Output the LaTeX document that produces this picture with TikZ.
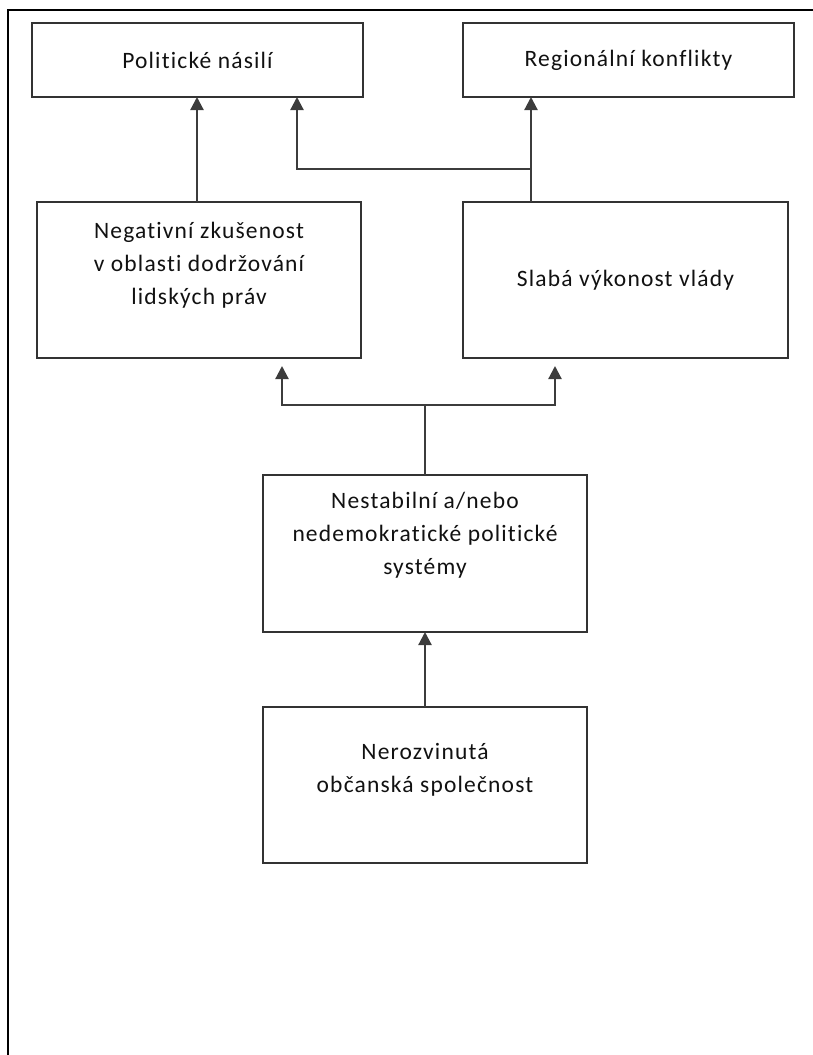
\documentclass[tikz,border=0pt]{standalone}
\usepackage{fontspec}
\setmainfont{Carlito}[LetterSpace=5, Ligatures=NoCommon]
\usetikzlibrary{arrows.meta}

\definecolor{edgegray}{HTML}{333333}
\definecolor{linkgray}{HTML}{3C3C3C}
\definecolor{inkgray}{HTML}{111111}

\begin{document}
\begin{tikzpicture}[x=1pt,y=-1pt,
  box/.style={draw=edgegray, line width=1.8pt, fill=white, inner sep=0pt, outer sep=0pt,
              minimum width=#1},
  box/.default=324pt,
  caption/.style={text=inkgray, align=center, inner sep=0pt,
                  font=\fontsize{23.5}{33}\selectfont},
  conn/.style={draw=linkgray, line width=2.2pt, -{Triangle[length=13pt,width=13pt]}},
  link/.style={draw=linkgray, line width=2.2pt}
]
\useasboundingbox (0,0) rectangle (813,1055);

% page frame (open to the right and bottom)
\draw[line width=2.5pt, black] (813,10) -- (8,10) -- (8,1055);

% top row
\node[box=331pt, minimum height=74pt] (pn) at (197.5,60) {};
\node[box=331pt, minimum height=74pt] (rk) at (628.5,60) {};
\node[caption] (pnT) at (pn.center) {Politické násilí};
\node[caption] (rkT) at (rk.center) {Regionální konflikty};

% middle row
\node[box=324pt, minimum height=156pt] (neg) at (199,280) {};
\node[box=325pt, minimum height=156pt] (slab) at (625.5,280) {};
\node[caption] (negT) at (199,265) {Negativní zkušenost\\v oblasti dodržování\\lidských práv};
\node[caption] (slabT) at (slab.center) {Slabá výkonost vlády};

% lower boxes
\node[box=324pt, minimum height=157pt] (nest) at (425,553.5) {};
\node[caption] (nestT) at (425,535) {Nestabilní a/nebo\\nedemokratické politické\\systémy};
\node[box=324pt, minimum height=156pt] (ner) at (425,785) {};
\node[caption] (nerT) at (425,770) {Nerozvinutá\\občanská společnost};

% junction points
\coordinate (jr) at (531,169);
\coordinate (jl) at (297,169);
\coordinate (jm) at (425,405);
\coordinate (ml) at (282,405);
\coordinate (mr) at (555,405);

% connectors to the top row
\draw[conn] ([xshift=-2pt]neg.north) -- ([xshift=-2pt]neg.north |- pn.south);
\draw[conn] (slab.north -| jr) -- (rk.south -| jr);
\draw[conn] (jr) -- (jl) -- (pn.south -| jl);

% fork from the political systems box
\draw[link] (nest.north) -- (jm);
\draw[conn, shorten >=8pt] (jm) -- (ml) -- (neg.south -| ml);
\draw[conn, shorten >=8pt] (jm) -- (mr) -- (slab.south -| mr);

% civil society to political systems
\draw[conn] (ner.north) -- (nest.south);
\end{tikzpicture}
\end{document}
